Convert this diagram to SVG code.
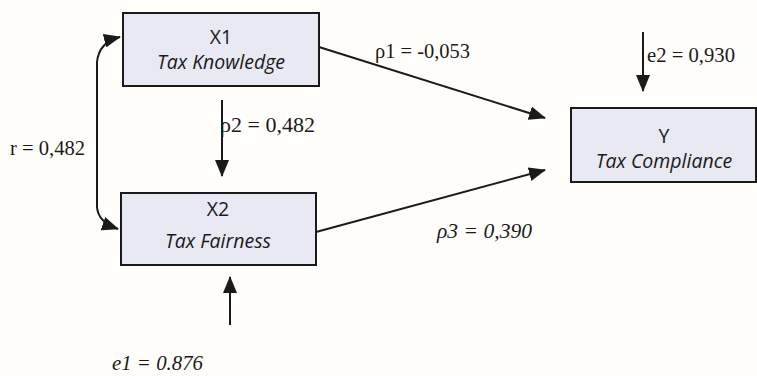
<svg xmlns="http://www.w3.org/2000/svg" width="757" height="376" viewBox="0 0 757 376">
<style>
.box{fill:#e8e9f3;stroke:#1a1a1a;stroke-width:2}
.vn{font-family:"Open Sans","Noto Sans",sans-serif;font-size:19.5px;fill:#1a1a1a;text-anchor:middle}
.vl{font-family:"Open Sans","Noto Sans",sans-serif;font-size:19.5px;font-style:italic;fill:#1a1a1a;text-anchor:middle}
.lab{font-family:"Liberation Serif","Times New Roman",serif;font-size:21px;fill:#1a1a1a}
.it{font-style:italic}
.con{fill:none;stroke:#1a1a1a;stroke-width:2}
</style>
<defs>
<marker id="ah" markerUnits="userSpaceOnUse" markerWidth="18" markerHeight="14" refX="16" refY="7" orient="auto-start-reverse" viewBox="0 0 18 14">
<path d="M0,0 L17,7 L0,14 z" fill="#1a1a1a"/>
</marker>
</defs>
<rect width="757" height="376" fill="#fffefb"/>
<g id="connectors">
<path class="con" d="M319,47 L545,118" marker-end="url(#ah)"/>
<path class="con" d="M316,232 L545,170" marker-end="url(#ah)"/>
<path class="con" d="M222,100 L222,176" marker-end="url(#ah)"/>
<path class="con" d="M643,32 L643,91" marker-end="url(#ah)"/>
<path class="con" d="M230,325 L230,277" marker-end="url(#ah)"/>
<path class="con" d="M120,37 Q99,42 97,62 L97,207 Q98,222 118,229" marker-start="url(#ah)" marker-end="url(#ah)"/>
</g>
<g id="x1">
<rect class="box" x="123" y="13" width="196" height="73"/>
<text class="vn" x="221" y="44">X1</text>
<text class="vl" x="221" y="69">Tax Knowledge</text>
</g>
<g id="x2">
<rect class="box" x="121" y="193" width="195" height="72"/>
<text class="vn" x="218" y="216">X2</text>
<text class="vl" x="218" y="248">Tax Fairness</text>
</g>
<g id="y">
<rect class="box" x="571" y="108" width="185" height="74"/>
<text class="vn" x="664" y="143">Y</text>
<text class="vl" x="664" y="168">Tax Compliance</text>
</g>
<g id="labels">
<text class="lab" x="375" y="58" textLength="95" lengthAdjust="spacingAndGlyphs">ρ1 = -0,053</text>
<text class="lab" x="220" y="132" textLength="95" lengthAdjust="spacingAndGlyphs">ρ2 =  0,482</text>
<text class="lab" x="10" y="155" font-size="22" textLength="75" lengthAdjust="spacingAndGlyphs">r = 0,482</text>
<text class="lab" x="647" y="62" textLength="88" lengthAdjust="spacingAndGlyphs">e2 = 0,930</text>
<text class="lab it" x="437" y="238" textLength="95" lengthAdjust="spacingAndGlyphs">ρ3 = 0,390</text>
<text class="lab it" x="112" y="370" textLength="91" lengthAdjust="spacingAndGlyphs">e1 = 0.876</text>
</g>
</svg>
